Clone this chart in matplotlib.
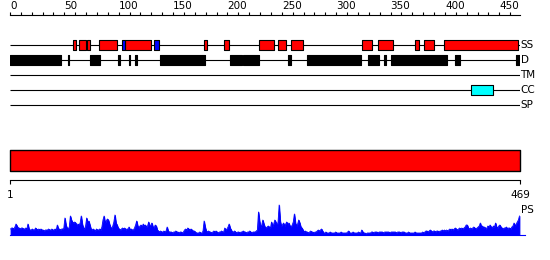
"""Protein feature overview: SS / disorder / TM / CC / SP tracks and PS profile."""

import matplotlib
matplotlib.use("Agg")
import matplotlib.pyplot as plt
from matplotlib.transforms import blended_transform_factory

plt.rcParams["font.family"] = ["DejaVu Sans"]

# ---- data ---------------------------------------------------------------
seq_len = 469

track_names = ["SS", "D", "TM", "CC", "SP"]

# secondary structure (start residue, length)
ss_helix = [(58, 3), (63, 7), (71, 3), (82, 16), (106, 24), (178, 3), (197, 4),
            (229, 14), (246, 8), (258, 11), (324, 9), (338, 14), (372, 4),
            (381, 9), (399, 68)]
ss_strand = [(103, 3), (132, 5)]
disorder = [(0, 47), (53, 1.5), (74, 9), (99, 2), (109, 1.5), (115, 1.8),
            (138, 41), (202, 11), (214, 15), (256, 2.5), (273, 50), (329, 10),
            (344, 2), (350, 52), (409, 5), (465, 4)]
transmem = []
coiled_coil = [(424, 20)]
signal_pep = []

ruler_major = list(range(0, 451, 50))
ruler_minor = list(range(0, 461, 10))
end_labels = ["1", str(seq_len)]

# PS profile, one value per residue
ps_values = [
    6, 7, 7, 6, 8, 11, 9, 7, 7, 6,
    7, 7, 6, 6, 7, 6, 11, 6, 5, 5,
    6, 5, 5, 7, 6, 5, 6, 5, 6, 5,
    5, 4, 5, 5, 5, 6, 5, 5, 6, 5,
    5, 6, 5, 10, 6, 6, 5, 6, 6, 7,
    17, 10, 7, 6, 8, 19, 15, 13, 12, 13,
    12, 9, 11, 10, 12, 19, 11, 7, 6, 9,
    17, 12, 14, 10, 6, 5, 6, 5, 4, 6,
    5, 5, 6, 5, 8, 15, 19, 12, 14, 16,
    15, 11, 8, 6, 9, 13, 20, 12, 10, 7,
    6, 5, 6, 7, 6, 7, 5, 6, 6, 8,
    5, 6, 5, 5, 7, 10, 14, 9, 7, 9,
    10, 8, 11, 9, 10, 8, 9, 13, 8, 10,
    12, 8, 7, 10, 9, 5, 4, 3, 4, 3,
    3, 4, 3, 4, 8, 4, 3, 3, 3, 2,
    3, 3, 4, 3, 3, 2, 3, 3, 2, 3,
    5, 6, 5, 7, 6, 5, 6, 5, 4, 4,
    3, 2, 2, 2, 3, 2, 2, 4, 14, 8,
    4, 3, 4, 3, 3, 2, 3, 4, 3, 4,
    3, 2, 3, 3, 4, 3, 3, 7, 5, 6,
    8, 11, 7, 5, 3, 3, 4, 3, 2, 3,
    3, 2, 3, 3, 4, 3, 3, 2, 3, 3,
    4, 3, 2, 3, 3, 3, 4, 5, 23, 14,
    8, 10, 15, 11, 8, 7, 8, 9, 8, 7,
    13, 9, 11, 15, 13, 9, 13, 30, 14, 9,
    10, 12, 9, 11, 13, 10, 12, 9, 8, 10,
    13, 21, 12, 9, 11, 15, 12, 8, 7, 5,
    3, 4, 3, 3, 2, 3, 4, 3, 3, 2,
    3, 3, 4, 5, 4, 5, 6, 4, 2, 2,
    3, 2, 2, 2, 3, 2, 2, 2, 2, 3,
    2, 2, 2, 2, 3, 2, 2, 2, 2, 2,
    3, 4, 2, 2, 2, 3, 2, 2, 2, 2,
    3, 2, 2, 5, 3, 2, 2, 1, 2, 2,
    2, 2, 3, 3, 2, 3, 3, 3, 2, 3,
    3, 3, 3, 2, 3, 3, 3, 3, 3, 2,
    3, 3, 3, 3, 3, 2, 3, 3, 3, 2,
    3, 3, 3, 2, 2, 2, 3, 2, 2, 2,
    2, 2, 3, 2, 2, 2, 2, 2, 2, 3,
    2, 3, 4, 4, 3, 4, 5, 4, 3, 4,
    4, 3, 4, 4, 3, 4, 4, 5, 4, 5,
    4, 5, 4, 5, 6, 5, 6, 5, 6, 7,
    6, 5, 6, 7, 6, 7, 6, 7, 8, 10,
    10, 7, 6, 7, 6, 7, 8, 7, 6, 7,
    8, 9, 12, 8, 9, 7, 8, 6, 7, 9,
    8, 10, 8, 7, 9, 8, 12, 8, 7, 9,
    10, 8, 7, 6, 7, 7, 8, 6, 7, 7,
    6, 8, 9, 12, 9, 11, 13, 15, 19,
]

# ---- layout helpers (pixel boxes on a 550x260 canvas) ----------------------
W, H = 550, 260
LEFT, RIGHT = 10, 520
FS = 7.5
LW = 0.8


def add_px_axes(fig, top, bottom):
    return fig.add_axes([LEFT / W, 1 - bottom / H, (RIGHT - LEFT) / W, (bottom - top) / H])


def strip(ax):
    for s in ax.spines.values():
        s.set_visible(False)
    ax.set_xticks([])
    ax.set_yticks([])
    ax.patch.set_alpha(0)


fig = plt.figure(figsize=(W / 100, H / 100), dpi=100)

# top ruler
ax_r = add_px_axes(fig, 15, 16)
strip(ax_r)
ax_r.set_xlim(0, seq_len)
ax_r.spines["top"].set_visible(True)
ax_r.spines["top"].set_linewidth(LW)
ax_r.xaxis.tick_top()
ax_r.set_xticks(ruler_major)
ax_r.set_xticklabels([str(v) for v in ruler_major], fontsize=FS, ha="left")
ax_r.set_xticks(ruler_minor, minor=True)
ax_r.tick_params(axis="x", which="both", direction="out", length=2.3, width=LW, pad=0.5)

# feature tracks
ax_t = add_px_axes(fig, 37.5, 112.5)
strip(ax_t)
ax_t.set_xlim(0, seq_len)
ax_t.set_ylim(len(track_names) - 0.5, -0.5)
tracks = [
    [(ss_helix, "#ff0000"), (ss_strand, "#0000ff")],
    [(disorder, "black")],
    [(transmem, "#ffff00")],
    [(coiled_coil, "#00ffff")],
    [(signal_pep, "#00ff00")],
]
half = 0.35
lab_tr = blended_transform_factory(ax_t.transAxes, ax_t.transData)
for row, (name, layers) in enumerate(zip(track_names, tracks)):
    ax_t.hlines(row, 0, seq_len, color="black", lw=LW, zorder=1)
    for segs, col in layers:
        if segs:
            ax_t.broken_barh(segs, (row - half, 2 * half), facecolors=col,
                             edgecolors="black", linewidth=LW, zorder=2)
    ax_t.text(1.001, row, name, transform=lab_tr, fontsize=FS, va="center", ha="left")

# full-length bar
ax_b = add_px_axes(fig, 150, 171)
strip(ax_b)
ax_b.set_xlim(0, seq_len)
ax_b.set_ylim(0, 1)
ax_b.broken_barh([(0, seq_len)], (0, 1), facecolors="#ff0000", edgecolors="black",
                 linewidth=1.0, clip_on=False)

# bottom ruler with end labels
ax_e = add_px_axes(fig, 179, 180)
strip(ax_e)
ax_e.set_xlim(0, seq_len)
ax_e.spines["bottom"].set_visible(True)
ax_e.spines["bottom"].set_linewidth(LW)
ax_e.set_xticks([0, seq_len])
ax_e.set_xticklabels(end_labels, fontsize=FS)
ax_e.tick_params(axis="x", direction="out", length=3, width=LW, pad=4)

# PS profile
ax_p = add_px_axes(fig, 205, 235)
strip(ax_p)
ax_p.set_xlim(0, seq_len)
ax_p.set_ylim(0, 30)
xs = [i + 0.5 for i in range(len(ps_values))]
ax_p.fill_between(xs, 0, ps_values, color="#0000ff", lw=0.6, clip_on=False)
ax_p.plot(xs, ps_values, color="#0000ff", lw=0.6, clip_on=False)
ax_p.axhline(0, xmin=0, xmax=1.01, color="#0000ff", lw=0.8, clip_on=False)
ax_p.text(1.002, 25 / 30, "PS", transform=ax_p.transAxes, fontsize=FS, va="center", ha="left")

fig.savefig("out.png", dpi=100)
plt.close(fig)
